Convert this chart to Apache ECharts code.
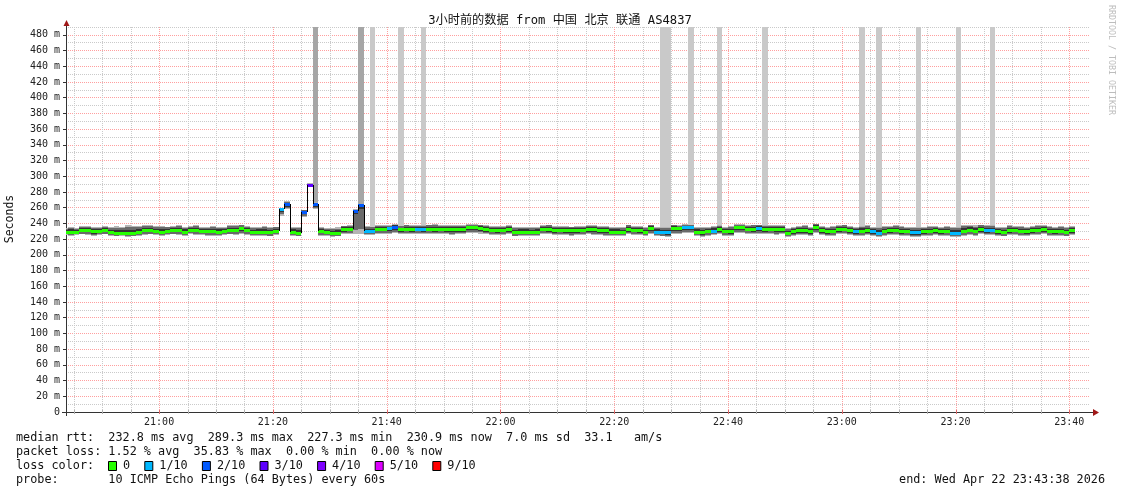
<!DOCTYPE html>
<html>
<head>
<meta charset="utf-8">
<title>smokeping 3h</title>
<script src="https://cdn.jsdelivr.net/npm/echarts@6/dist/echarts.min.js"></script>
<style>
  html, body { margin: 0; padding: 0; background: #fff; }
  #chart { width: 1121px; height: 494px; }
</style>
</head>
<body>
<div id="chart"></div>
<script>
// one slot per minute, first slot starts 20:43
const firstSlot = '20:43'
const median = [
  229.6, 229.6, 229.6, 231.5, 231.5, 229.8, 229.8, 231.5, 228.6, 228.0,
  228.0, 227.5, 227.5, 229.0, 231.5, 231.5, 230.0, 228.8, 230.5, 231.5,
  231.5, 229.0, 232.0, 232.0, 230.0, 230.0, 230.0, 229.5, 230.0, 231.5,
  231.5, 233.6, 231.5, 228.6, 229.5, 229.5, 228.5, 231.0, 258.0, 265.0,
  229.0, 228.0, 255.0, 289.3, 265.0, 230.0, 229.0, 227.5, 227.5, 233.0,
  233.5, 256.0, 263.0, 230.5, 231.0, 233.0, 233.5, 234.0, 236.0, 232.5,
  233.5, 233.0, 233.0, 233.0, 233.5, 233.0, 233.5, 233.0, 232.5, 233.0,
  232.5, 235.0, 235.0, 234.5, 233.0, 232.0, 231.5, 231.5, 233.0, 228.5,
  229.5, 229.5, 229.5, 229.5, 233.0, 233.0, 231.5, 231.5, 231.5, 231.5,
  231.5, 231.5, 232.5, 232.5, 231.5, 231.5, 229.5, 229.5, 229.5, 233.0,
  231.5, 231.5, 229.5, 234.0, 229.5, 228.5, 228.5, 234.0, 234.0, 235.0,
  235.0, 229.5, 228.5, 230.0, 231.0, 233.0, 230.0, 230.0, 235.0, 235.0,
  233.0, 233.0, 234.0, 233.0, 233.0, 233.0, 233.0, 227.5, 230.0, 231.5,
  231.5, 230.0, 235.5, 231.5, 230.0, 230.0, 233.0, 233.0, 231.5, 230.0,
  231.0, 231.5, 230.0, 228.0, 230.0, 231.5, 231.5, 230.0, 230.0, 228.5,
  228.5, 230.0, 230.0, 231.5, 230.0, 230.0, 228.0, 228.0, 230.5, 232.0,
  230.0, 233.0, 231.5, 231.5, 230.0, 229.0, 231.5, 231.5, 230.0, 230.0,
  231.5, 231.5, 233.0, 230.0, 230.0, 230.0, 229.0, 231.5
]
const smokeLo = [
  225.0, 224.5, 225.5, 226.0, 225.5, 224.5, 225.0, 226.0, 224.0, 223.5,
  224.0, 223.0, 223.5, 224.0, 225.5, 226.0, 225.0, 224.0, 225.0, 226.0,
  225.5, 224.0, 226.0, 225.5, 225.0, 224.5, 224.5, 224.0, 225.0, 226.0,
  225.5, 227.0, 225.5, 224.0, 224.5, 224.0, 223.5, 225.0, 250.0, 258.0,
  224.0, 223.5, 248.0, 286.0, 258.0, 224.5, 224.0, 223.0, 223.5, 226.0,
  226.5, 226.0, 226.0, 225.0, 225.5, 226.5, 227.0, 226.5, 227.5, 226.0,
  226.5, 226.0, 226.5, 226.0, 227.0, 226.0, 226.5, 226.0, 225.5, 226.0,
  226.0, 227.5, 228.0, 227.0, 226.0, 225.5, 225.0, 225.5, 226.0, 223.5,
  224.0, 224.5, 224.0, 224.5, 226.5, 226.0, 225.0, 225.5, 225.0, 224.5,
  225.0, 225.5, 226.0, 225.5, 225.0, 224.5, 224.0, 224.5, 223.5, 226.0,
  225.5, 225.0, 224.0, 227.0, 224.0, 223.5, 223.0, 227.0, 226.5, 228.0,
  227.5, 224.0, 223.0, 224.5, 225.0, 226.0, 224.5, 224.0, 228.0, 227.5,
  226.5, 226.0, 227.0, 226.0, 226.5, 225.5, 226.0, 222.5, 224.0, 225.0,
  225.0, 224.0, 228.0, 225.0, 224.0, 224.5, 226.0, 226.5, 225.0, 224.0,
  224.5, 225.0, 224.0, 222.5, 224.5, 225.0, 225.5, 224.0, 224.5, 223.0,
  223.0, 224.0, 224.5, 225.0, 224.0, 224.5, 222.5, 223.0, 224.5, 225.5,
  224.5, 226.0, 225.0, 225.5, 224.0, 223.5, 225.0, 225.5, 224.5, 224.0,
  225.0, 225.5, 226.0, 224.5, 224.0, 224.5, 223.5, 225.0
]
const smokeHi = [
  234.5, 235.0, 234.0, 236.5, 237.0, 235.0, 236.0, 237.0, 235.5, 236.5,
  235.0, 237.5, 237.0, 236.5, 237.5, 238.0, 237.0, 236.5, 236.0, 237.0,
  237.5, 236.0, 237.0, 237.5, 236.0, 235.5, 236.5, 235.5, 236.0, 237.5,
  237.5, 238.5, 236.5, 235.0, 236.0, 236.5, 235.5, 236.0, 260.0, 268.0,
  236.0, 236.0, 257.5, 291.0, 267.0, 236.0, 234.0, 234.5, 235.0, 237.0,
  238.0, 258.0, 265.0, 236.5, 236.0, 238.0, 237.5, 238.0, 239.0, 237.0,
  238.5, 238.0, 237.5, 238.0, 238.5, 239.0, 238.0, 237.5, 238.0, 238.0,
  237.5, 239.0, 239.5, 238.5, 237.5, 237.0, 236.5, 237.0, 237.5, 235.0,
  235.5, 236.0, 235.0, 235.5, 238.0, 238.5, 237.0, 236.5, 237.0, 236.0,
  236.5, 237.0, 238.0, 237.5, 236.5, 237.0, 235.5, 236.0, 235.0, 238.5,
  237.0, 236.5, 235.0, 238.5, 236.0, 235.0, 235.5, 238.5, 238.0, 239.0,
  238.5, 235.5, 235.0, 236.0, 236.5, 238.0, 236.0, 236.5, 239.0, 239.5,
  238.0, 238.5, 238.5, 238.0, 237.5, 238.0, 237.5, 234.5, 236.0, 237.0,
  237.5, 236.0, 239.5, 237.0, 236.0, 236.5, 238.0, 238.5, 237.0, 236.0,
  237.0, 237.5, 236.0, 235.0, 236.5, 237.0, 237.5, 236.5, 236.0, 235.0,
  235.5, 236.0, 236.5, 237.0, 236.0, 236.5, 235.0, 235.5, 237.5, 238.5,
  237.5, 238.5, 238.0, 237.5, 236.0, 235.5, 237.5, 237.0, 236.5, 236.0,
  237.0, 237.5, 238.0, 236.5, 236.0, 236.5, 235.0, 237.0
]
// minutes with lost pings (count out of 10)
const lossTimes = ['21:21', '21:22', '21:25', '21:26', '21:27', '21:34', '21:35', '21:36', '21:37', '21:40',
  '21:41', '21:45', '21:46', '22:27', '22:28', '22:29', '22:32', '22:33', '22:37', '22:45',
  '23:02', '23:05', '23:06', '23:12', '23:13', '23:19', '23:20', '23:25', '23:26']
const lossCounts = [1, 2, 2, 3, 2, 2, 2, 1, 1, 1,
  2, 1, 1, 1, 1, 1, 1, 1, 1, 1,
  1, 1, 1, 1, 1, 1, 1, 1, 1]
// minutes where pings ran off the top of the graph
const capTimes = ['21:27', '21:35', '21:37', '21:42', '21:46', '22:28', '22:29', '22:33', '22:38', '22:46',
  '23:03', '23:06', '23:13', '23:20', '23:26']
const capCounts = [3, 3, 1, 1, 1, 1, 1, 1, 1, 1, 1, 1, 1, 1, 1]
const xTickLabels = ['21:00', '21:20', '21:40', '22:00', '22:20', '22:40', '23:00', '23:20', '23:40']
const legendLabels = ['0', '1/10', '2/10', '3/10', '4/10', '5/10', '9/10']
const legendColors = ['#26ff00', '#00b8ff', '#0059ff', '#5e00ff', '#7e00ff', '#dd00ff', '#ff0000']
const lossColor = { 0: '#26ff00', 1: '#00b8ff', 2: '#0059ff', 3: '#5e00ff', 4: '#7e00ff', 5: '#dd00ff', 9: '#ff0000' }

const mono = '"DejaVu Sans Mono", "Noto Sans CJK SC", monospace'
const MIN = 60000
const at = (hhmm, s = 0) => {
    const [h, m] = hhmm.split(':').map(Number)
    return new Date(2026, 3, 22, h, m, s).getTime()
}
const startTs = at('20:43', 38)
const endTs = at('23:43', 38)
const t0 = at(firstSlot)
const pad = n => String(n).padStart(2, '0')
const hm = v => { const d = new Date(v); return pad(d.getHours()) + ':' + pad(d.getMinutes()) }

const lossAt = {}
lossTimes.forEach((t, i) => { lossAt[at(t)] = lossCounts[i] })
const capAt = {}
capTimes.forEach((t, i) => { capAt[at(t)] = capCounts[i] })

const smokeData = median.map((m, i) => {
    const t = t0 + i * MIN
    return [t, m, smokeLo[i], smokeHi[i], lossAt[t] || 0, capAt[t] || 0, i > 0 ? median[i - 1] : m]
})

// vertical grid: red every 20 min, grey every 5 min
const majorTicks = xTickLabels.map(s => at(s))
const gridData = []
for (let t = at('20:45'); t < endTs; t += 5 * MIN) gridData.push([t, majorTicks.includes(t) ? 1 : 0])

function renderSmoke(params, api) {
    const t = api.value(0)
    const med = api.value(1), lo = api.value(2), hi = api.value(3)
    const loss = api.value(4), cap = api.value(5), prev = api.value(6)
    const xa = Math.round(api.coord([t, 0])[0])
    const xb = Math.round(api.coord([t + MIN, 0])[0])
    const w = xb - xa
    const y = v => api.coord([t, v])[1]
    const top = params.coordSys.y
    const kids = []
    const rect = (y1, y2, fill) => {
        const a = Math.round(Math.min(y1, y2)), b = Math.round(Math.max(y1, y2))
        kids.push({ type: 'rect', shape: { x: xa, y: a, width: w, height: Math.max(1, b - a) }, style: { fill } })
    }
    if (cap) rect(top, y(hi), cap > 1 ? '#a6a6a6' : '#c9c9c9')
    // smoke: lighter towards the outer pings
    rect(y(hi), y(lo), '#b4b4b4')
    rect(y(hi - (hi - med) * 0.2), y(lo + (med - lo) * 0.2), '#6a6a6a')
    const up = Math.min((hi - med) * 0.5, 4.5), down = Math.min((med - lo) * 0.5, 4.5)
    rect(y(med + up), y(med - down), '#333333')
    const ym = Math.round(y(med))
    kids.push({ type: 'rect', shape: { x: xa, y: ym - 1, width: w, height: 3 }, style: { fill: lossColor[loss] } })
    if (Math.abs(prev - med) > 6) {
        kids.push({ type: 'line', shape: { x1: xa + 0.5, y1: Math.round(y(prev)), x2: xa + 0.5, y2: ym },
            style: { stroke: '#000', lineWidth: 1 } })
    }
    return { type: 'group', children: kids }
}

function renderGrid(params, api) {
    const t = api.value(0), major = api.value(1)
    const x = Math.round(api.coord([t, 0])[0]) + 0.5
    const cs = params.coordSys
    return {
        type: 'group',
        children: [
            { type: 'line', shape: { x1: x, y1: cs.y, x2: x, y2: cs.y + cs.height },
                style: { stroke: major ? '#ff9f9f' : '#cacaca', lineWidth: 1, lineDash: [1, 1] } },
            { type: 'line', shape: { x1: x, y1: cs.y + cs.height - 2, x2: x, y2: cs.y + cs.height + 2 },
                style: { stroke: major ? '#e06a6a' : '#b0b0b0', lineWidth: 1 } }
        ]
    }
}

// legend boxes for loss colours
const legendGraphics = []
let bx = 108
legendLabels.forEach((lab, i) => {
    legendGraphics.push({ type: 'rect', shape: { x: bx + 0.5, y: 461.5, width: 8, height: 9 },
        style: { fill: legendColors[i], stroke: '#000', lineWidth: 1 } })
    legendGraphics.push({ type: 'text', x: bx + 15, y: 466,
        style: { text: lab, font: '11.8px ' + mono, fill: '#111', textVerticalAlign: 'middle' } })
    bx += 15 + 7.1 * (lab.length + 2)
})
const line = (txt, x, y, align) => ({ type: 'text', x, y,
    style: { text: txt, font: '11.8px ' + mono, fill: '#111', textAlign: align || 'left', textVerticalAlign: 'middle' } })

const chart = echarts.init(document.getElementById('chart'))
chart.setOption({
    animation: false,
    backgroundColor: '#fff',
    grid: { left: 66, right: 31, top: 27, bottom: 82, containLabel: false },
    xAxis: {
        type: 'value', min: startTs, max: endTs,
        axisLine: { show: true, lineStyle: { color: '#333' } },
        axisTick: { show: false },
        axisLabel: { customValues: majorTicks, formatter: v => hm(v), fontFamily: mono, fontSize: 10, color: '#222', margin: 5 },
        splitLine: { show: false }
    },
    yAxis: [{
        type: 'value', min: 0, max: 490, interval: 20, z: 1,
        axisLine: { show: true, lineStyle: { color: '#333' } },
        axisTick: { show: true, length: 3, lineStyle: { color: '#333' } },
        axisLabel: { formatter: v => v === 0 ? '0' : v + ' m', showMaxLabel: false,
            fontFamily: mono, fontSize: 10, color: '#222', margin: 6 },
        splitLine: { show: true, showMaxLine: false, showMinLine: false, lineStyle: { color: '#ff9f9f', type: [1, 1] } }
    }, {
        type: 'value', min: 0, max: 490, interval: 10, z: 0,
        axisLine: { show: false }, axisTick: { show: false }, axisLabel: { show: false },
        splitLine: { show: true, showMinLine: false, lineStyle: { color: '#cacaca', type: [1, 1] } }
    }],
    series: [{
        name: 'grid',
        type: 'custom',
        clip: false,
        z: 1,
        silent: true,
        renderItem: renderGrid,
        encode: { x: 0 },
        data: gridData
    }, {
        name: 'smoke',
        type: 'custom',
        xAxisIndex: 0,
        yAxisIndex: 0,
        clip: true,
        z: 3,
        renderItem: renderSmoke,
        encode: { x: 0, y: 1 },
        data: smokeData
    }],
    graphic: [
        { type: 'text', x: 560, y: 21, style: { text: '3小时前的数据 from 中国 北京 联通 AS4837',
            font: '12.2px ' + mono, fill: '#111', textAlign: 'center', textVerticalAlign: 'middle' } },
        { type: 'text', x: 10, y: 219, rotation: Math.PI / 2, style: { text: 'Seconds',
            font: '11.5px ' + mono, fill: '#111', textAlign: 'center', textVerticalAlign: 'middle' } },
        { type: 'text', x: 1111, y: 5, rotation: -Math.PI / 2, style: { text: 'RRDTOOL / TOBI OETIKER',
            font: '8.3px ' + mono, fill: '#bdbdbd', textAlign: 'left', textVerticalAlign: 'middle' } },
        { type: 'line', shape: { x1: 66.5, y1: 27, x2: 66.5, y2: 22 }, style: { stroke: '#333', lineWidth: 1 } },
        { type: 'line', shape: { x1: 66.5, y1: 412, x2: 66.5, y2: 416 }, style: { stroke: '#333', lineWidth: 1 } },
        { type: 'line', shape: { x1: 62, y1: 412.5, x2: 1094, y2: 412.5 }, style: { stroke: '#333', lineWidth: 1 } },
        { type: 'polygon', shape: { points: [[63.5, 26], [69.5, 26], [66.5, 20]] }, style: { fill: '#a01818' } },
        { type: 'polygon', shape: { points: [[1093, 409], [1093, 416], [1099, 412.5]] }, style: { fill: '#a01818' } },
        line('median rtt:  232.8 ms avg  289.3 ms max  227.3 ms min  230.9 ms now  7.0 ms sd  33.1   am/s', 16, 438),
        line('packet loss: 1.52 % avg  35.83 % max  0.00 % min  0.00 % now', 16, 452),
        line('loss color:', 16, 466),
        line('probe:       10 ICMP Echo Pings (64 Bytes) every 60s', 16, 480),
        line('end: Wed Apr 22 23:43:38 2026', 1105, 480, 'right'),
        ...legendGraphics
    ]
})
</script>
</body>
</html>
